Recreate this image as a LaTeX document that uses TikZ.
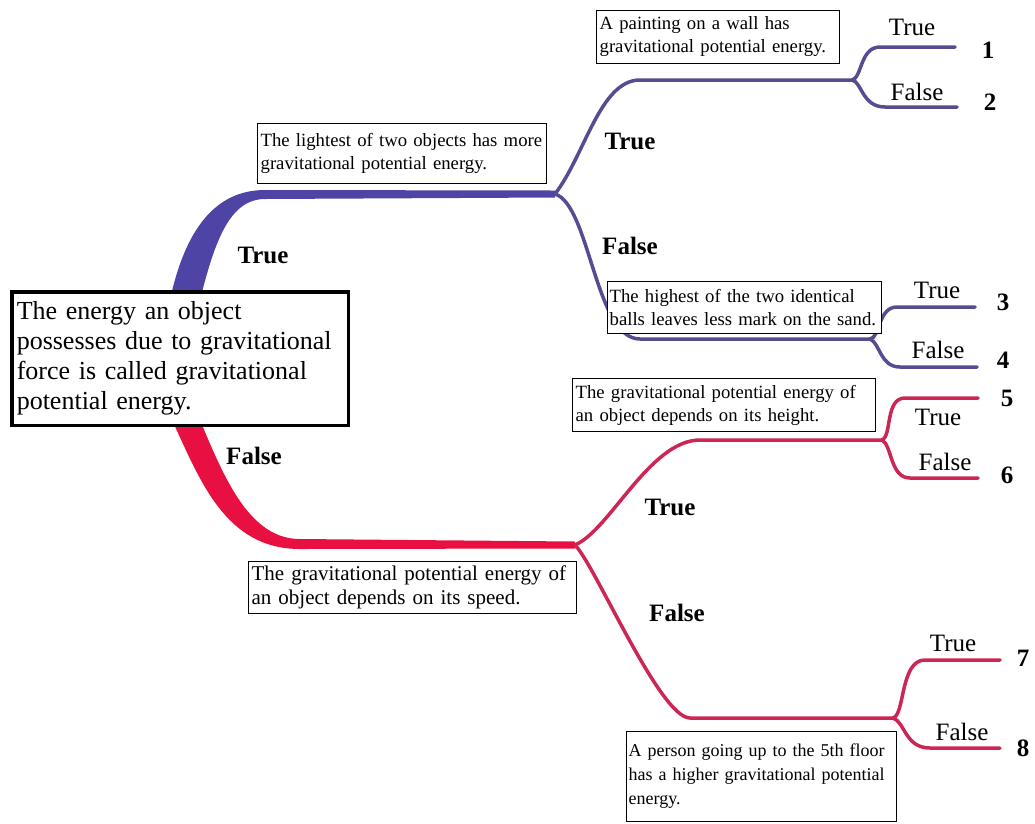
\documentclass[tikz,border=0pt]{standalone}
\usepackage{fontspec}
\setmainfont{Liberation Serif}
\usetikzlibrary{calc}
\definecolor{gpblue}{RGB}{78,68,165}
\definecolor{gpblueline}{RGB}{84,78,145}
\definecolor{gpred}{RGB}{232,16,64}
\definecolor{gpredline}{RGB}{204,38,84}

\begin{document}
\begin{tikzpicture}[
  x=1pt, y=-1pt,
  premise/.style={draw, fill=white, line width=3.5pt, align=left, anchor=north west, inner xsep=5pt, inner ysep=4pt, font=\fontsize{26}{30}\selectfont},
  statement/.style={draw, fill=white, line width=1.3pt, align=left, anchor=north west, inner xsep=3pt, inner ysep=3pt, font=\fontsize{18.7}{23}\selectfont},
  branch/.style={line width=3.5pt, line cap=round},
  answer/.style={font=\fontsize{25}{25}\selectfont},
  verdict/.style={font=\fontsize{25}{25}\selectfont\bfseries},
  outcome/.style={font=\fontsize{25}{25}\selectfont\bfseries}
]
\useasboundingbox (0,0) rectangle (1035,823);

% Branch points and leaf ends
\coordinate (b1) at (555,194);
\coordinate (b2) at (852,80);
\coordinate (b3) at (870,339);
\coordinate (r1) at (575,545);
\coordinate (r2) at (882,440);
\coordinate (r3) at (893,718);
\coordinate (l1) at (955,47);
\coordinate (l2) at (957,107);
\coordinate (l3) at (975,307);
\coordinate (l4) at (977,367);
\coordinate (l5) at (978,398);
\coordinate (l6) at (978,478);
\coordinate (l7) at (1000,660);
\coordinate (l8) at (1000,748);

% Trunks
\fill[gpblue] (170,300) .. controls (185,230) and (215,190) .. (265,190) -- ($(b1)+(0,-3.5)$) -- ($(b1)+(0,3.5)$) -- (265,199) .. controls (230,199) and (215,240) .. (200,300) -- cycle;
\fill[gpred] (172,420) .. controls (200,480) and (225,549) .. (300,549) -- ($(r1)+(0,3.5)$) -- ($(r1)+(0,-3.5)$) -- (300,539) .. controls (250,539) and (225,480) .. (200,420) -- cycle;

% Blue branches
\draw[branch, gpblueline] (b1) .. controls (585,155) and (600,80) .. (640,80) -- (b2);
\draw[branch, gpblueline] (b2) .. controls (862,78) and (860,47) .. (880,47) -- (l1);
\draw[branch, gpblueline] (b2) .. controls (862,82) and (862,107) .. (885,107) -- (l2);
\draw[branch, gpblueline] (b1) .. controls (590,205) and (595,339) .. (640,339) -- (b3);
\draw[branch, gpblueline] (b3) .. controls (880,338) and (878,307) .. (897,307) -- (l3);
\draw[branch, gpblueline] (b3) .. controls (880,343) and (880,367) .. (900,367) -- (l4);

% Red branches
\draw[branch, gpredline] (r1) .. controls (610,530) and (650,440) .. (700,440) -- (r2);
\draw[branch, gpredline] (r2) .. controls (892,436) and (885,398) .. (905,398) -- (l5);
\draw[branch, gpredline] (r2) .. controls (892,445) and (890,478) .. (910,478) -- (l6);
\draw[branch, gpredline] (r1) .. controls (595,565) and (660,718) .. (690,718) -- (r3);
\draw[branch, gpredline] (r3) .. controls (905,715) and (900,660) .. (925,660) -- (l7);
\draw[branch, gpredline] (r3) .. controls (905,722) and (905,748) .. (930,748) -- (l8);

% Statements
\node[premise, text width=326.5pt, minimum height=133.5pt] (root) at (10,290) {The energy an object\\possesses due to gravitational\\force is called gravitational\\potential energy.};
\node[statement, text width=282.7pt, minimum height=59.7pt] (q1) at (257,123) {The lightest of two objects has more\\gravitational potential energy.};
\node[statement, text width=236.7pt, minimum height=52.7pt] (q2) at (596,10) {A painting on a wall has\\gravitational potential energy.};
\node[statement, text width=269.7pt, minimum height=51.7pt, inner xsep=2pt] (q3) at (607,281) {The highest of the two identical\\balls leaves less mark on the sand.};
\node[statement, text width=296.7pt, minimum height=52.7pt] (q4) at (572,378) {The gravitational potential energy of\\an object depends on its height.};
\node[statement, text width=321.7pt, minimum height=51.7pt, font=\fontsize{21}{24}\selectfont] (q5) at (248,561) {The gravitational potential energy of\\an object depends on its speed.};
\node[statement, text width=265.7pt, minimum height=89.7pt, inner xsep=2pt, font=\fontsize{18}{24}\selectfont] (q6) at (626,731) {A person going up to the 5th floor\\has a higher gravitational potential\\energy.};

% Branch labels
\node[verdict] (v1) at (263,255) {True};
\node[verdict] (v2) at (254,456) {False};
\node[verdict] (v3) at (630,141) {True};
\node[verdict] (v4) at (630,246) {False};
\node[verdict] (v5) at (670,507) {True};
\node[verdict] (v6) at (677,613) {False};

% Leaf labels
\node[answer] (a1) at (912,27) {True};
\node[answer] (a2) at (917,92) {False};
\node[answer] (a3) at (937,290) {True};
\node[answer] (a4) at (938,350) {False};
\node[answer] (a5) at (938,417) {True};
\node[answer] (a6) at (945,462) {False};
\node[answer] (a7) at (953,643) {True};
\node[answer] (a8) at (962,732) {False};

% Outcomes
\node[outcome] (o1) at (988,50) {1};
\node[outcome] (o2) at (990,102) {2};
\node[outcome] (o3) at (1003,302) {3};
\node[outcome] (o4) at (1003,360) {4};
\node[outcome] (o5) at (1007,398) {5};
\node[outcome] (o6) at (1007,475) {6};
\node[outcome] (o7) at (1023,658) {7};
\node[outcome] (o8) at (1023,748) {8};

\end{tikzpicture}
\end{document}
